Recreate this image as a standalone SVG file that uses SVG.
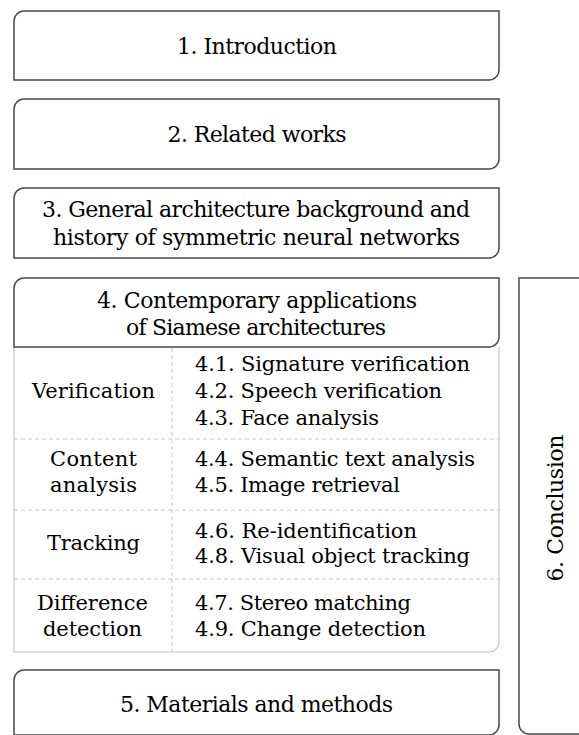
<svg xmlns="http://www.w3.org/2000/svg" width="579" height="735" viewBox="0 0 579 735">
<style>
.box{fill:#fff;stroke:#4a4a4a;stroke-width:1.5}
.tbl{fill:#fff;stroke:#c4c4c4;stroke-width:1.2}
.dash{stroke:#c8c8c8;stroke-width:1;stroke-dasharray:4,3;fill:none}
.t{font-family:'DejaVu Serif','Liberation Serif',serif;font-size:22px;fill:#000;text-anchor:middle}
.s{font-family:'DejaVu Serif','Liberation Serif',serif;font-size:21px;fill:#000}
.c{text-anchor:middle}
</style>
<rect width="579" height="735" fill="#fff"/>
<g id="n1">
<path class="box" d="M14,80 V21 A10,10 0 0 1 24,11 H499 V70 A10,10 0 0 1 489,80 Z"/>
<text class="t" x="257" y="54" textLength="160" lengthAdjust="spacing">1. Introduction</text>
</g>
<g id="n2">
<path class="box" d="M14,169 V109 A10,10 0 0 1 24,99 H499 V159 A10,10 0 0 1 489,169 Z"/>
<text class="t" x="257" y="142" textLength="179" lengthAdjust="spacing">2. Related works</text>
</g>
<g id="n3">
<path class="box" d="M14,258 V198 A10,10 0 0 1 24,188 H499 V248 A10,10 0 0 1 489,258 Z"/>
<text class="t" x="256" y="217" textLength="428" lengthAdjust="spacing">3. General architecture background and</text>
<text class="t" x="256.5" y="245" textLength="407" lengthAdjust="spacing">history of symmetric neural networks</text>
</g>
<g id="n4">
<path class="tbl" d="M14,347 V652 H489 A10,10 0 0 0 499,642 V347"/>
<line class="dash" x1="172" y1="348" x2="172" y2="652"/>
<line class="dash" x1="14" y1="439" x2="499" y2="439"/>
<line class="dash" x1="14" y1="510" x2="499" y2="510"/>
<line class="dash" x1="14" y1="579" x2="499" y2="579"/>
<path class="box" d="M14,347 V288 A10,10 0 0 1 24,278 H499 V337 A10,10 0 0 1 489,347 Z"/>
<text class="t" x="257" y="308" textLength="320" lengthAdjust="spacing">4. Contemporary applications</text>
<text class="t" x="256" y="335" textLength="260" lengthAdjust="spacing">of Siamese architectures</text>
<text class="s c" x="93.5" y="398" textLength="123" lengthAdjust="spacing">Verification</text>
<text class="s c" x="93.5" y="466" textLength="87" lengthAdjust="spacing">Content</text>
<text class="s c" x="93.5" y="492" textLength="87" lengthAdjust="spacing">analysis</text>
<text class="s c" x="93.5" y="550" textLength="93" lengthAdjust="spacing">Tracking</text>
<text class="s c" x="92.5" y="610" textLength="111" lengthAdjust="spacing">Difference</text>
<text class="s c" x="92.5" y="636" textLength="99" lengthAdjust="spacing">detection</text>
<text class="s" x="195" y="371" textLength="275" lengthAdjust="spacing">4.1. Signature verification</text>
<text class="s" x="195" y="398" textLength="247" lengthAdjust="spacing">4.2. Speech verification</text>
<text class="s" x="195" y="425" textLength="184" lengthAdjust="spacing">4.3. Face analysis</text>
<text class="s" x="195" y="466" textLength="280" lengthAdjust="spacing">4.4. Semantic text analysis</text>
<text class="s" x="195" y="492" textLength="205" lengthAdjust="spacing">4.5. Image retrieval</text>
<text class="s" x="195" y="538" textLength="222" lengthAdjust="spacing">4.6. Re-identification</text>
<text class="s" x="195" y="563" textLength="275" lengthAdjust="spacing">4.8. Visual object tracking</text>
<text class="s" x="195" y="610" textLength="216" lengthAdjust="spacing">4.7. Stereo matching</text>
<text class="s" x="195" y="636" textLength="231" lengthAdjust="spacing">4.9. Change detection</text>
</g>
<g id="n5">
<path class="box" d="M14,745 V680 A10,10 0 0 1 24,670 H499 V725 A10,10 0 0 1 489,735 H14"/>
<text class="t" x="256.5" y="712" textLength="273" lengthAdjust="spacing">5. Materials and methods</text>
</g>
<g id="n6">
<path class="box" d="M600,278 H519 V724 A10,10 0 0 0 529,734 H600"/>
<text class="t" transform="translate(563,508) rotate(-90)" x="0" y="0" textLength="147" lengthAdjust="spacing">6. Conclusion</text>
</g>
<g id="connectors"></g>
</svg>
